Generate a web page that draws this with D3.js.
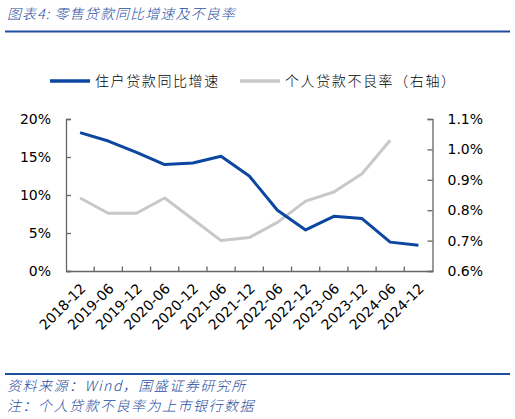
<!DOCTYPE html>
<html lang="zh">
<head>
    <meta charset="UTF-8">
    <title>零售贷款同比增速及不良率</title>
    <script src="https://d3js.org/d3.v7.min.js"></script>
    <style>
        * {
            margin: 0;
            padding: 0;
            box-sizing: border-box;
        }

        html, body {
            width: 515px;
            height: 419px;
            overflow: hidden;
            background: #fff;
        }

        svg {
            display: block;
        }

        .cjk {
            font-family: "Noto Sans CJK SC", sans-serif;
            font-weight: 300;
        }

        .tick text {
            font-family: "DejaVu Sans", Verdana, sans-serif;
            font-size: 14px;
            fill: #000;
        }
    </style>
</head>
<body>
<svg id="chart" width="515" height="419"></svg>
<script>
    const months = ["2018-12", "2019-06", "2019-12", "2020-06", "2020-12", "2021-06", "2021-12",
        "2022-06", "2022-12", "2023-06", "2023-12", "2024-06", "2024-12"]
    // 住户贷款同比增速 (%)
    const householdGrowth = [18.2, 17.1, 15.6, 14.0, 14.2, 15.1, 12.5, 8.0, 5.4, 7.2, 6.9, 3.8, 3.4]
    // 个人贷款不良率 (%), right axis
    const personalNpl = [0.84, 0.79, 0.79, 0.84, 0.77, 0.70, 0.71, 0.76, 0.83, 0.86, 0.92, 1.03, null]
    const leftTicks = [0, 5, 10, 15, 20]
    const rightTicks = [0.6, 0.7, 0.8, 0.9, 1.0, 1.1]

    const blue = "#0b46a0"
    const gray = "#c8c8c8"
    const titleBlue = "#1f4e9f"
    const axisColor = "#666"

    const plot = { left: 66, right: 432.5, top: 119, bottom: 271 }

    const svg = d3.select("#chart")

    const x = d3.scaleBand()
        .domain(months)
        .range([ plot.left, plot.right ])
    const yL = d3.scaleLinear()
        .domain([ 0, 20 ])
        .range([ plot.bottom, plot.top ])
    const yR = d3.scaleLinear()
        .domain([ 0.6, 1.1 ])
        .range([ plot.bottom, plot.top ])

    // title + rules
    svg.append("text")
        .attr("class", "cjk")
        .attr("x", 7)
        .attr("y", 19)
        .attr("fill", titleBlue)
        .attr("font-size", 14)
        .attr("font-style", "italic")
        .attr("letter-spacing", 1.1)
        .text("图表4:  零售贷款同比增速及不良率")
    svg.selectAll("line.rule")
        .data([ 31.5, 374 ])
        .join("line")
        .attr("class", "rule")
        .attr("x1", 5)
        .attr("x2", 510)
        .attr("y1", d => d)
        .attr("y2", d => d)
        .attr("stroke", titleBlue)
        .attr("stroke-width", 2)

    // legend
    const legend = [
        { label: "住户贷款同比增速", color: blue, x: 50 },
        { label: "个人贷款不良率（右轴）", color: gray, x: 240 },
    ]
    const $leg = svg.selectAll("g.legend")
        .data(legend)
        .join("g")
        .attr("class", "legend")
        .attr("transform", d => `translate(${d.x} 81)`)
    $leg.append("line")
        .attr("x2", 40)
        .attr("stroke", d => d.color)
        .attr("stroke-width", 3.5)
    $leg.append("text")
        .attr("class", "cjk")
        .attr("x", 45)
        .attr("y", 5)
        .attr("font-size", 14)
        .attr("letter-spacing", 1.6)
        .text(d => d.label)

    // axes
    const $left = svg.append("g")
        .attr("transform", `translate(${plot.left} 0)`)
        .call(d3.axisLeft(yL)
            .tickValues(leftTicks)
            .tickFormat(d => d + "%")
            .tickSize(-5)
            .tickPadding(15)
            .tickSizeOuter(-5))
    const $right = svg.append("g")
        .attr("transform", `translate(${plot.right} 0)`)
        .call(d3.axisRight(yR)
            .tickValues(rightTicks)
            .tickFormat(d => d.toFixed(1) + "%")
            .tickSize(-5)
            .tickPadding(15)
            .tickSizeOuter(-5))
    const $bottom = svg.append("g")
        .attr("transform", `translate(0 ${plot.bottom})`)
        .call(d3.axisBottom(x).tickSize(0).tickSizeOuter(0))
    $bottom.selectAll(".tick text")
        .attr("x", 0)
        .attr("y", 0)
        .attr("dy", "0.35em")
        .attr("text-anchor", "end")
        .attr("transform", "translate(3 15) rotate(-45)")
    // x ticks sit on the band edges
    $bottom.selectAll("line.edge")
        .data(months.slice(1))
        .join("line")
        .attr("class", "edge")
        .attr("x1", d => x(d))
        .attr("x2", d => x(d))
        .attr("y2", -4.5)
        .attr("stroke", axisColor)
        .attr("stroke-width", 1.3)

    for (const $a of [ $left, $right, $bottom ]) {
        $a.selectAll(".domain, .tick line")
            .attr("stroke", axisColor)
            .attr("stroke-width", 1.3)
        $a.selectAll(".tick text").attr("fill", "#000")
    }

    // series
    const cx = d => x(d) + x.bandwidth() / 2
    svg.append("path")
        .datum(months.map((m, i) => [ m, personalNpl[i] ]))
        .attr("fill", "none")
        .attr("stroke", gray)
        .attr("stroke-width", 3)
        .attr("stroke-linejoin", "round")
        .attr("d", d3.line()
            .defined(d => d[1] != null)
            .x(d => cx(d[0]))
            .y(d => yR(d[1])))
    svg.append("path")
        .datum(months.map((m, i) => [ m, householdGrowth[i] ]))
        .attr("fill", "none")
        .attr("stroke", blue)
        .attr("stroke-width", 3)
        .attr("stroke-linejoin", "round")
        .attr("d", d3.line()
            .x(d => cx(d[0]))
            .y(d => yL(d[1])))

    // footnotes
    svg.selectAll("text.note")
        .data([
            { t: "资料来源：Wind，国盛证券研究所", y: 391 },
            { t: "注：个人贷款不良率为上市银行数据", y: 411 },
        ])
        .join("text")
        .attr("class", "note cjk")
        .attr("x", 7)
        .attr("y", d => d.y)
        .attr("fill", titleBlue)
        .attr("font-size", 14)
        .attr("font-style", "italic")
        .attr("letter-spacing", 1.5)
        .text(d => d.t)
</script>
</body>
</html>
